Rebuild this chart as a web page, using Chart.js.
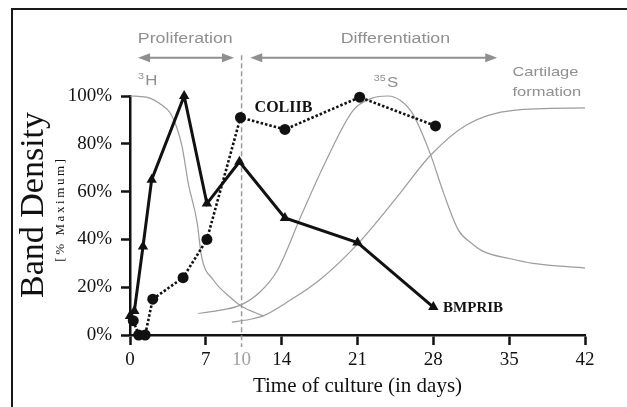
<!DOCTYPE html>
<html>
<head>
<meta charset="utf-8">
<script src="https://cdn.jsdelivr.net/npm/chart.js@4.4.1/dist/chart.umd.min.js"></script>
<style>
  html, body { margin: 0; padding: 0; background: #fff; }
</style>
</head>
<body>
<canvas id="bands" width="627" height="407"></canvas>
<script>
// BMPRIB band density (% of maximum) by day of culture
const bmpDays = [0, 0.4, 1.2, 2, 5, 7.1, 10.1, 14.3, 21, 28];
const bmpValues = [8, 10, 37, 65, 100, 55, 72.5, 49, 38.7, 11.7];

// COLIIB band density
const colDays = [0.3, 0.8, 1.4, 2.1, 4.9, 7.1, 10.2, 14.3, 21.2, 28.2];
const colValues = [6, 0, 0, 15, 24, 40, 91, 86, 99.5, 87.5];

// background curves: 3H uptake, 35S uptake, cartilage formation
const h3Days = [0, 1.5, 3, 3.7, 4.3, 4.8, 5.4, 6.2, 6.6, 7.7, 9.2, 10.3, 12.3];
const h3Values = [100, 99.5, 96, 93, 87, 79, 63, 47, 33, 23, 16, 12, 8];

const s35Days = [6.3, 8.5, 10.2, 12, 13.6, 15.9, 18, 20.6, 22.3, 23.8, 25, 26.1, 27.7, 28.9, 30.3, 31.5, 32.6, 35, 37.2, 42];
const s35Values = [9, 10.5, 12.5, 18, 27, 51, 72, 94, 99, 100, 98, 92.5, 76, 60, 44, 38.5, 35, 32, 30, 28];

const cartDays = [9.4, 11, 12.3, 14.8, 17.5, 21, 24.7, 27.7, 31.1, 35.4, 42];
const cartValues = [5.4, 6.5, 8, 14.6, 23, 38, 58, 75, 88, 94, 95];

// x axis ticks; the "10" marks the end of proliferation
const phaseDay = 10.3;
const xTickDays = [0, 7, phaseDay, 14, 21, 28, 35, 42];
const xTickLabels = ['0', '7', '10', '14', '21', '28', '35', '42'];

const SERIF = "'Liberation Serif', 'Times New Roman', serif";
const SANS = "'Liberation Sans', Arial, sans-serif";
const INK = '#111';
const GREY = '#8f8f8f';

const toPoints = (days, vals) => days.map((d, i) => ({ x: d, y: vals[i] }));

const curve = (days, vals) => ({
  data: toPoints(days, vals),
  borderColor: '#9c9c9c',
  borderWidth: 1.2,
  pointRadius: 0,
  cubicInterpolationMode: 'monotone',
  order: 2,
  clip: false
});

function arrowHead(ctx, x, y, dir) {
  ctx.beginPath();
  ctx.moveTo(x, y);
  ctx.lineTo(x - dir * 12, y - 4.5);
  ctx.lineTo(x - dir * 12, y + 4.5);
  ctx.closePath();
  ctx.fill();
}

// the grey sans labels are set wide
function wideText(ctx, text, x, y, size, align) {
  ctx.save();
  ctx.translate(x, y);
  ctx.scale(1.27, 1);
  ctx.font = size + 'px ' + SANS;
  ctx.textAlign = align;
  ctx.fillText(text, 0, 0);
  ctx.restore();
}

function isotope(ctx, mass, sym, x, y) {
  ctx.save();
  ctx.translate(x, y);
  ctx.scale(1.2, 1);
  ctx.textAlign = 'left';
  ctx.font = '9px ' + SANS;
  ctx.fillText(mass, 0, -6);
  const w = ctx.measureText(mass).width;
  ctx.font = '14px ' + SANS;
  ctx.fillText(sym, w + 1, 0);
  ctx.restore();
}

const decorations = {
  id: 'decorations',
  beforeDraw(chart) {
    const { ctx, width, height } = chart;
    ctx.save();
    ctx.fillStyle = '#fff';
    ctx.fillRect(0, 0, width, height);
    ctx.strokeStyle = '#1a1a1a';
    ctx.lineWidth = 2;
    ctx.beginPath();
    ctx.moveTo(12, height + 2);
    ctx.lineTo(12, 9);
    ctx.lineTo(width + 2, 9);
    ctx.stroke();
    ctx.restore();
  },
  beforeDatasetsDraw(chart) {
    const { ctx, scales: { x, y } } = chart;
    const px = x.getPixelForValue(phaseDay);
    ctx.save();
    ctx.strokeStyle = '#9a9a9a';
    ctx.lineWidth = 1.5;
    ctx.setLineDash([5, 3]);
    ctx.beginPath();
    ctx.moveTo(px, y.getPixelForValue(117));
    ctx.lineTo(px, y.getPixelForValue(-5));
    ctx.stroke();
    ctx.restore();
  },
  afterDraw(chart) {
    const { ctx, scales: { x, y } } = chart;
    const X = v => x.getPixelForValue(v);
    const Y = v => y.getPixelForValue(v);
    ctx.save();

    // y axis title
    ctx.fillStyle = INK;
    ctx.save();
    ctx.translate(43, 205);
    ctx.rotate(-Math.PI / 2);
    ctx.textAlign = 'center';
    ctx.font = '34px ' + SERIF;
    ctx.fillText('Band Density', 0, 0);
    ctx.restore();
    ctx.save();
    ctx.translate(64, 209);
    ctx.rotate(-Math.PI / 2);
    ctx.textAlign = 'center';
    ctx.font = '13px ' + SERIF;
    ctx.letterSpacing = '2.6px';
    ctx.fillText('[% Maximum]', 0, 0);
    ctx.restore();

    // phase arrows
    ctx.fillStyle = GREY;
    ctx.strokeStyle = GREY;
    ctx.lineWidth = 2;
    const ay = Y(116);
    ctx.beginPath();
    ctx.moveTo(X(0.74) + 6, ay);
    ctx.lineTo(X(9.6) - 6, ay);
    ctx.moveTo(X(11.1) + 6, ay);
    ctx.lineTo(X(33.9) - 6, ay);
    ctx.stroke();
    arrowHead(ctx, X(0.74), ay, -1);
    arrowHead(ctx, X(9.6), ay, 1);
    arrowHead(ctx, X(11.1), ay, -1);
    arrowHead(ctx, X(33.9), ay, 1);

    wideText(ctx, 'Proliferation', X(5.1), Y(122.2), 14, 'center');
    wideText(ctx, 'Differentiation', X(24.5), Y(122.2), 14, 'center');
    wideText(ctx, 'Cartilage', X(35.3), Y(108.4), 13, 'left');
    wideText(ctx, 'formation', X(35.3), Y(100.2), 13, 'left');
    isotope(ctx, '3', 'H', X(0.74), Y(104.6));
    isotope(ctx, '35', 'S', X(22.5), Y(103.8));

    // series names
    ctx.fillStyle = INK;
    ctx.textAlign = 'left';
    ctx.font = 'bold 16px ' + SERIF;
    ctx.fillText('COLIIB', X(11.5), Y(93.3));
    ctx.font = 'bold 15px ' + SERIF;
    ctx.fillText('BMPRIB', X(28.9), Y(9.6));
    ctx.restore();
  }
};

new Chart(document.getElementById('bands'), {
  type: 'line',
  data: {
    datasets: [
      {
        label: 'BMPRIB',
        data: toPoints(bmpDays, bmpValues),
        borderColor: INK,
        borderWidth: 3,
        pointStyle: 'triangle',
        pointRadius: 6,
        pointBackgroundColor: INK,
        pointBorderColor: INK,
        pointBorderWidth: 0,
        order: 0,
        clip: false
      },
      {
        label: 'COLIIB',
        data: toPoints(colDays, colValues),
        borderColor: INK,
        borderWidth: 2.6,
        borderDash: [2.5, 2],
        pointStyle: 'circle',
        pointRadius: 5.5,
        pointBackgroundColor: INK,
        pointBorderColor: INK,
        pointBorderWidth: 0,
        order: 1,
        clip: false
      },
      Object.assign(curve(h3Days, h3Values), { label: '3H' }),
      Object.assign(curve(s35Days, s35Values), { label: '35S' }),
      Object.assign(curve(cartDays, cartValues), { label: 'Cartilage formation' })
    ]
  },
  options: {
    responsive: false,
    animation: false,
    layout: { padding: { left: 0, right: 42, top: 96, bottom: 0 } },
    plugins: { legend: { display: false }, tooltip: { enabled: false } },
    scales: {
      x: {
        type: 'linear',
        min: 0,
        max: 42,
        afterFit(scale) { scale.height = 72; },
        afterBuildTicks(scale) { scale.ticks = xTickDays.map(v => ({ value: v })); },
        ticks: {
          autoSkip: false,
          maxRotation: 0,
          padding: 4,
          font: { family: SERIF, size: 19 },
          color: c => (c.tick && c.tick.value === phaseDay ? '#a0a0a0' : INK),
          callback: (v, i) => xTickLabels[i]
        },
        grid: {
          drawOnChartArea: false,
          tickLength: 10,
          tickWidth: 2.5,
          tickColor: c => (c.tick && c.tick.value === phaseDay ? 'rgba(0,0,0,0)' : INK)
        },
        border: { color: INK, width: 2.5 },
        title: {
          display: true,
          text: 'Time of culture (in days)',
          color: INK,
          font: { family: SERIF, size: 21 },
          padding: { top: 0, bottom: 8 }
        }
      },
      y: {
        min: 0,
        max: 100,
        afterFit(scale) { scale.width = 130; },
        ticks: {
          stepSize: 20,
          padding: 9,
          color: INK,
          font: { family: SERIF, size: 19 },
          callback: v => v + '%'
        },
        grid: { drawOnChartArea: false, tickLength: 9, tickWidth: 2.5, tickColor: INK },
        border: { color: INK, width: 2.5 }
      }
    }
  },
  plugins: [decorations]
});
</script>
</body>
</html>
